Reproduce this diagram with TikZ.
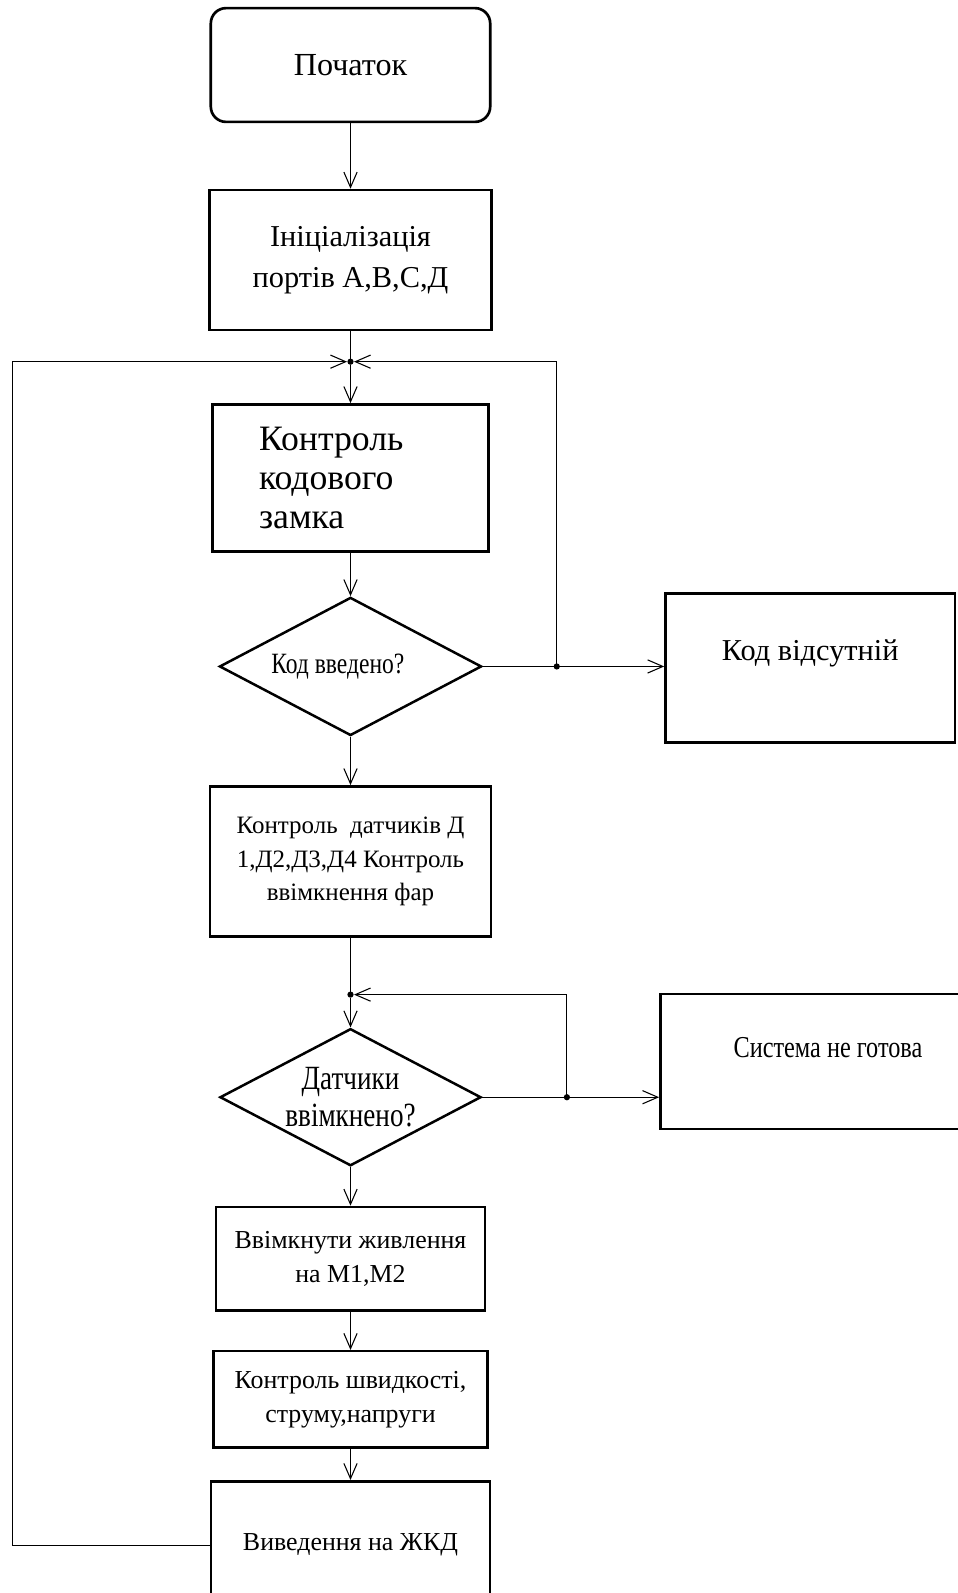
\documentclass[tikz,border=0pt]{standalone}
\usepackage{fontspec}
\setmainfont{Liberation Serif}
\newfontfamily\narrowfont[FakeStretch=0.8]{Liberation Serif}
\usetikzlibrary{arrows.meta,shapes.geometric}
\tikzstyle{term}=[rectangle,rounded corners=0.3cm,draw=black,line width=1.5pt,
  minimum width=5.5cm,minimum height=2.24cm,font=\fontsize{18}{22}\selectfont]
\tikzstyle{proc}=[rectangle,draw=black,line width=1.4pt,align=center,inner sep=0pt]
\tikzstyle{dec}=[diamond,aspect=1.9,draw=black,line width=1.4pt,align=center,inner sep=0pt]
\tikzstyle{dot}=[circle,fill=black,inner sep=0pt,minimum size=3.5pt]
\tikzstyle{none}=[inner sep=0pt]
\tikzstyle{line}=[line width=0.6pt]
\tikzstyle{flow}=[line width=0.6pt,-{Straight Barb[length=3mm,width=2.6mm]}]

\begin{document}
\begin{tikzpicture}
	\useasboundingbox (0,0) rectangle (18.84,-31.36);
	\node [style=term] (0) at (6.9, -1.28) {Початок};
	\node [style=proc, minimum width=5.56cm, minimum height=2.76cm,
	  font=\fontsize{17}{23}\selectfont] (1) at (6.9, -5.12) {Ініціалізація\\портів А,В,С,Д};
	\node [style=dot] (2) at (6.9, -7.12) {};
	\node [style=proc, minimum width=5.44cm, minimum height=2.9cm, text width=3.6cm, align=left,
	  font=\fontsize{20}{22}\selectfont] (3) at (6.9, -9.41) {Контроль\\кодового\\замка};
	\node [style=dec, minimum width=5.16cm, minimum height=2.72cm,
	  font=\narrowfont\fontsize{16.5}{18}\selectfont] (4) at (6.9, -13.12) {Код введено?\hspace{0.5cm}};
	\node [style=proc, minimum width=5.7cm, minimum height=2.94cm, text height=0.45cm, text depth=0.73cm,
	  font=\fontsize{17}{20}\selectfont] (5) at (15.95, -13.15) {Код відсутній};
	\node [style=proc, minimum width=5.54cm, minimum height=2.96cm,
	  font=\fontsize{14}{18.8}\selectfont] (6) at (6.9, -16.96) {Контроль\ \ датчиків Д\\1,Д2,Д3,Д4 Контроль\\ввімкнення фар};
	\node [style=dot] (7) at (6.9, -19.58) {};
	\node [style=dec, minimum width=5.14cm, minimum height=2.7cm,
	  font=\narrowfont\fontsize{19}{21}\selectfont] (8) at (6.9, -21.6) {Датчики\\ввімкнено?};
	\node [style=proc, minimum width=6.6cm, minimum height=2.66cm, text height=0.45cm, text depth=0.6cm,
	  font=\narrowfont\fontsize{17}{20}\selectfont] (9) at (16.3, -20.9) {Система не готова};
	\node [style=proc, minimum width=5.3cm, minimum height=2.04cm,
	  font=\fontsize{14.5}{19.4}\selectfont] (10) at (6.9, -24.78) {Ввімкнути живлення\\на М1,М2};
	\node [style=proc, minimum width=5.4cm, minimum height=1.9cm,
	  font=\fontsize{14.5}{19}\selectfont] (11) at (6.9, -27.55) {Контроль швидкості,\\струму,напруги};
	\node [style=proc, minimum width=5.5cm, minimum height=2.52cm,
	  font=\fontsize{14.5}{18}\selectfont] (12) at (6.9, -30.42) {Виведення на ЖКД};
	\node [style=none] (13) at (0.24, -30.42) {};
	\node [style=none] (14) at (0.24, -7.12) {};
	\node [style=dot] (15) at (10.96, -13.12) {};
	\node [style=none] (16) at (10.96, -7.12) {};
	\node [style=dot] (17) at (11.16, -21.6) {};
	\node [style=none] (18) at (11.16, -19.58) {};
	\draw [style=flow] (0) to (1);
	\draw [style=line] (1) to (2.center);
	\draw [style=flow] (2) to (3);
	\draw [style=flow] (3) to (4);
	\draw [style=line] (4) to (15.center);
	\draw [style=flow] (15.center) to (15 -| 5.west);
	\draw [style=line] (15.center) to (16.center);
	\draw [style=flow] (16.center) to (2);
	\draw [style=line] (12) to (13.center) to (14.center);
	\draw [style=flow] (14.center) to (2);
	\draw [style=flow] (4) to (6);
	\draw [style=line] (6) to (7.center);
	\draw [style=flow] (7) to (8);
	\draw [style=line] (8) to (17.center);
	\draw [style=flow] (17.center) to (17 -| 9.west);
	\draw [style=line] (17.center) to (18.center);
	\draw [style=flow] (18.center) to (7);
	\draw [style=flow] (8) to (10);
	\draw [style=flow] (10) to (11);
	\draw [style=flow] (11) to (12);
\end{tikzpicture}
\end{document}
